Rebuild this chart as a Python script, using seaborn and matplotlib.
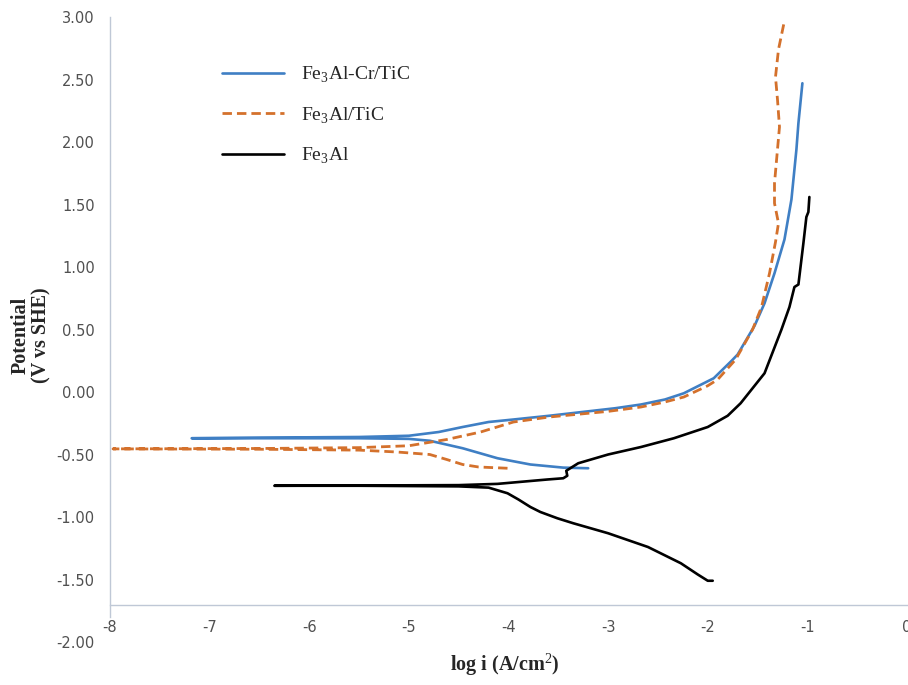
import matplotlib
matplotlib.use("Agg")
import matplotlib.pyplot as plt
import seaborn as sns

# Fe3Al-Cr/TiC : branche cathodique -> potentiel de corrosion -> branche anodique
cr_tic_x = [-3.20, -3.45, -3.78, -4.11, -4.46, -4.79, -5.00, -5.50, -6.50, -7.18,
            -6.50, -5.50, -5.00, -4.70, -4.46, -4.20, -3.95, -3.59, -2.93, -2.67,
            -2.43, -2.24, -2.09, -1.94, -1.76, -1.70, -1.53, -1.43, -1.33, -1.23,
            -1.16, -1.11, -1.09, -1.05]
cr_tic_y = [-0.61, -0.605, -0.58, -0.53, -0.45, -0.39, -0.375, -0.37, -0.37, -0.37,
            -0.365, -0.36, -0.35, -0.32, -0.28, -0.24, -0.22, -0.19, -0.13, -0.10,
            -0.06, -0.01, 0.05, 0.11, 0.25, 0.30, 0.53, 0.71, 0.95, 1.22,
            1.54, 1.94, 2.15, 2.47]

# Fe3Al/TiC
tic_x = [-4.01, -4.30, -4.46, -4.62, -4.79, -5.12, -5.50, -6.50, -7.97,
         -6.50, -5.50, -5.00, -4.62, -4.28, -3.95, -3.59, -3.00, -2.67, -2.43,
         -2.24, -2.00, -1.90, -1.72, -1.55, -1.46, -1.38, -1.32, -1.29, -1.33,
         -1.33, -1.30, -1.28, -1.30, -1.32, -1.29, -1.23]
tic_y = [-0.61, -0.60, -0.58, -0.54, -0.50, -0.48, -0.465, -0.458, -0.455,
         -0.452, -0.445, -0.43, -0.38, -0.32, -0.24, -0.20, -0.155, -0.12, -0.08,
         -0.04, 0.05, 0.10, 0.26, 0.50, 0.68, 0.95, 1.20, 1.35, 1.51,
         1.67, 1.94, 2.12, 2.34, 2.52, 2.74, 2.97]

# Fe3Al
fe3al_x = [-1.95, -2.00, -2.10, -2.27, -2.60, -3.00, -3.35, -3.51, -3.68, -3.78,
           -3.90, -4.01, -4.20, -4.50, -5.50, -6.35,
           -5.50, -4.50, -4.11, -3.61, -3.45, -3.41, -3.42, -3.38, -3.30, -3.00,
           -2.67, -2.34, -2.00, -1.80, -1.67, -1.43, -1.26, -1.18, -1.13, -1.09,
           -1.04, -1.01, -0.99, -0.98]
fe3al_y = [-1.51, -1.51, -1.46, -1.37, -1.24, -1.13, -1.05, -1.01, -0.96, -0.92,
           -0.86, -0.81, -0.765, -0.755, -0.75, -0.75,
           -0.748, -0.745, -0.735, -0.70, -0.69, -0.67, -0.63, -0.61, -0.57, -0.50,
           -0.44, -0.37, -0.28, -0.19, -0.09, 0.15, 0.50, 0.68, 0.84, 0.86,
           1.19, 1.40, 1.44, 1.56]

labels = ["Fe$_\\mathrm{3}$Al-Cr/TiC", "Fe$_\\mathrm{3}$Al/TiC", "Fe$_\\mathrm{3}$Al"]
x_ticks = [-8, -7, -6, -5, -4, -3, -2, -1, 0]
y_ticks = [-2.0, -1.5, -1.0, -0.5, 0.0, 0.5, 1.0, 1.5, 2.0, 2.5, 3.0]

sns.set_style("white")
plt.rcParams["font.family"] = ["DejaVu Sans"]
plt.rcParams["axes.unicode_minus"] = False
plt.rcParams["mathtext.fontset"] = "custom"
plt.rcParams["mathtext.rm"] = "Liberation Serif"

fig = plt.figure(figsize=(9.08, 6.85), dpi=100)
ax = fig.add_axes([110 / 908, 1 - 642 / 685, 797 / 908, 625 / 685])

sns.lineplot(x=cr_tic_x, y=cr_tic_y, sort=False, estimator=None, ax=ax,
             color="#3F7FC4", linewidth=1.9, label=labels[0])
sns.lineplot(x=tic_x, y=tic_y, sort=False, estimator=None, ax=ax,
             color="#D4712C", linewidth=2.0, linestyle=(0, (3.4, 1.8)), label=labels[1])
sns.lineplot(x=fe3al_x, y=fe3al_y, sort=False, estimator=None, ax=ax,
             color="black", linewidth=1.9, label=labels[2])

ax.set_xlim(-8, 0)
ax.set_ylim(-2, 3)
ax.set_xticks(x_ticks)
ax.set_yticks(y_ticks)
ax.set_xticklabels([str(t) for t in x_ticks])
ax.set_yticklabels([f"{t:.2f}" for t in y_ticks])
ax.tick_params(length=0, labelsize=10.5, labelcolor="#505050")
ax.tick_params(axis="y", pad=11)
ax.tick_params(axis="x", pad=11)

for s in ["top", "right"]:
    ax.spines[s].set_visible(False)
ax.spines["bottom"].set_position(("data", -1.70))
ax.spines["left"].set_bounds(-1.80, 3.0)
for s in ["bottom", "left"]:
    ax.spines[s].set_color("#BFC8D6")
    ax.spines[s].set_linewidth(1.0)

ax.set_xlabel("")
ax.set_ylabel("")
fig.text(31 / 908, 1 - 335 / 685, "Potential\n(V vs SHE)", rotation=90,
         ha="center", va="center", multialignment="center",
         family="Liberation Serif", fontweight="bold", fontsize=14.5, linespacing=1.0)
fig.text(505 / 908, 1 - 665 / 685, "log i (A/cm$^\\mathrm{2}$)",
         ha="center", va="center", family="Liberation Serif",
         fontweight="bold", fontsize=14.5)

leg = ax.legend(loc="upper left", bbox_to_anchor=(0.118, 0.952), frameon=False,
                handlelength=3.2, handletextpad=0.9, labelspacing=1.05,
                prop={"family": "Liberation Serif", "size": 14})

fig.savefig("out.png", dpi=100)
